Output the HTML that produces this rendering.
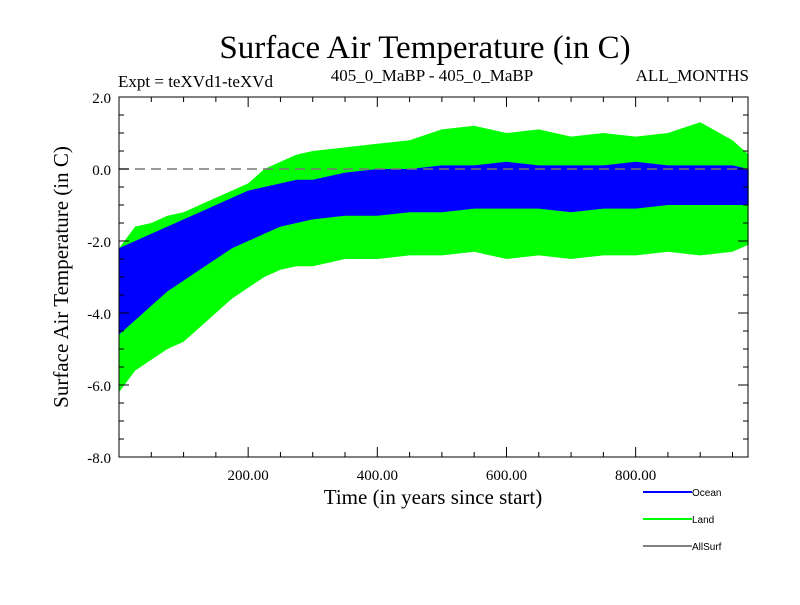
<!DOCTYPE html>
<html><head><meta charset="utf-8"><style>
body{margin:0;background:#fff;}
svg text{font-family:"Liberation Serif",serif;}
</style></head><body>
<svg width="800" height="600" xmlns="http://www.w3.org/2000/svg">
<text x="425" y="58" font-size="33" text-anchor="middle">Surface Air Temperature (in C)</text>
<text x="118" y="87" font-size="17">Expt = teXVd1-teXVd</text>
<text x="432" y="81" font-size="17" text-anchor="middle">405_0_MaBP - 405_0_MaBP</text>
<text x="749" y="81" font-size="17" text-anchor="end">ALL_MONTHS</text>
<g id="plot"></g>
<g id="axes"></g>
<text x="433" y="504" font-size="21" text-anchor="middle">Time (in years since start)</text>
<text transform="translate(68,277) rotate(-90)" font-size="21" text-anchor="middle">Surface Air Temperature (in C)</text>
<g font-family="Liberation Sans" font-size="10">
<line x1="643" y1="492" x2="692" y2="492" stroke="#0000ff" stroke-width="2"/>
<text x="692" y="496" style="font-family:'Liberation Sans',sans-serif" font-size="10">Ocean</text>
<line x1="643" y1="519" x2="692" y2="519" stroke="#00ff00" stroke-width="2"/>
<text x="692" y="523" style="font-family:'Liberation Sans',sans-serif" font-size="10">Land</text>
<line x1="643" y1="546" x2="692" y2="546" stroke="#000" stroke-width="1"/>
<text x="692" y="550" style="font-family:'Liberation Sans',sans-serif" font-size="10">AllSurf</text>
</g>
</svg>
<script>
const years=[0,25,50,75,100,125,150,175,200,225,250,275,300,350,400,450,500,550,600,650,700,750,800,850,900,950,975];
const landMax=[-2.2,-1.6,-1.5,-1.3,-1.2,-1.0,-0.8,-0.6,-0.4,0.0,0.2,0.4,0.5,0.6,0.7,0.8,1.1,1.2,1.0,1.1,0.9,1.0,0.9,1.0,1.3,0.8,0.4];
const landMin=[-6.2,-5.6,-5.3,-5.0,-4.8,-4.4,-4.0,-3.6,-3.3,-3.0,-2.8,-2.7,-2.7,-2.5,-2.5,-2.4,-2.4,-2.3,-2.5,-2.4,-2.5,-2.4,-2.4,-2.3,-2.4,-2.3,-2.1];
const oceanMax=[-2.2,-2.0,-1.8,-1.6,-1.4,-1.2,-1.0,-0.8,-0.6,-0.5,-0.4,-0.3,-0.3,-0.1,0.0,0.0,0.1,0.1,0.2,0.1,0.1,0.1,0.2,0.1,0.1,0.1,0.0];
const oceanMin=[-4.6,-4.2,-3.8,-3.4,-3.1,-2.8,-2.5,-2.2,-2.0,-1.8,-1.6,-1.5,-1.4,-1.3,-1.3,-1.2,-1.2,-1.1,-1.1,-1.1,-1.2,-1.1,-1.1,-1.0,-1.0,-1.0,-1.0];
const yTicks=[2.0,0.0,-2.0,-4.0,-6.0,-8.0];
const xTicks=[200,400,600,800];
const L=119,R=748,T=97,B=457,XMAX=974,YMIN=-8,YMAX=2;
const sx=v=>L+(v/XMAX)*(R-L);
const sy=v=>T+(YMAX-v)/(YMAX-YMIN)*(B-T);
const NS="http://www.w3.org/2000/svg";
const plot=document.getElementById('plot'),axes=document.getElementById('axes');
function mk(tag,attrs,parent){const e=document.createElementNS(NS,tag);for(const k in attrs)e.setAttribute(k,attrs[k]);parent.appendChild(e);return e;}
function band(maxA,minA,color){
  let pts=years.map((y,i)=>sx(y)+','+sy(maxA[i]));
  pts=pts.concat(years.map((y,i)=>sx(y)+','+sy(minA[i])).reverse());
  return mk('polygon',{points:pts.join(' '),fill:color},plot);
}
const lb=band(landMax,landMin,'#00ff00');


const ob=band(oceanMax,oceanMin,'#0000ff');


const zl=mk('line',{x1:L,x2:R,y1:sy(0),y2:sy(0),stroke:'#777','stroke-width':1.5,'stroke-dasharray':'10,6'},plot);


const fr=mk('rect',{x:L,y:T,width:R-L,height:B-T,fill:'none',stroke:'#000','stroke-width':1},axes);


for(let v=-8;v<=2;v+=0.5){const big=(v%2===0);
  mk('line',{x1:L,x2:L+(big?10:5),y1:sy(v),y2:sy(v),stroke:'#000'},axes);
  mk('line',{x1:R,x2:R-(big?10:5),y1:sy(v),y2:sy(v),stroke:'#000'},axes);}
for(let v=50;v<XMAX;v+=50){const big=(v%200===0);
  mk('line',{x1:sx(v),x2:sx(v),y1:B,y2:B-(big?10:5),stroke:'#000'},axes);
  mk('line',{x1:sx(v),x2:sx(v),y1:T,y2:T+(big?10:5),stroke:'#000'},axes);}
yTicks.forEach(v=>{const t=mk('text',{x:L-8,y:sy(v)+6,'font-size':15,'text-anchor':'end'},axes);t.textContent=v.toFixed(1);
  
  });
xTicks.forEach(v=>{const t=mk('text',{x:sx(v),y:B+23,'font-size':15,'text-anchor':'middle'},axes);t.textContent=v.toFixed(2);
  
  });
</script>
</body></html>
